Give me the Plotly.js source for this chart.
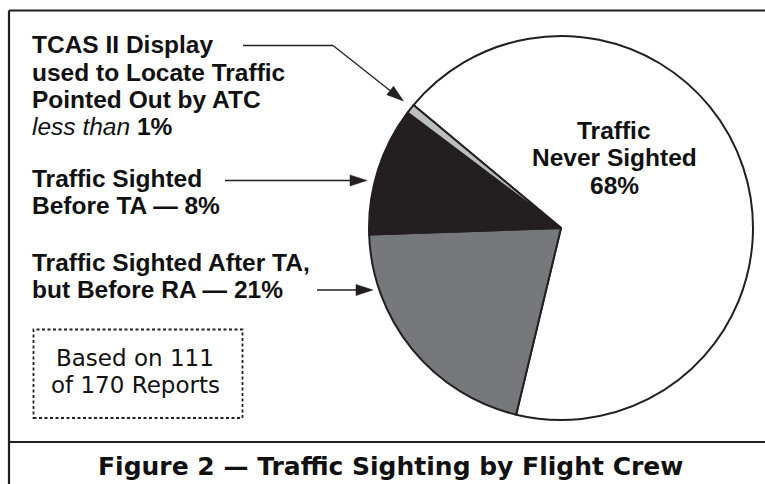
<!DOCTYPE html>
<html>
<head>
<meta charset="utf-8">
<script src="https://cdn.plot.ly/plotly-3.0.1.min.js"></script>
<style>html,body{margin:0;padding:0;background:#fff;}#chart{width:765px;height:484px;}</style>
</head>
<body>
<div id="chart"></div>
<script>
// ---- data ----
const categories = ["Traffic Never Sighted", "Traffic Sighted After TA, but Before RA", "Traffic Sighted Before TA", "TCAS II Display used to Locate Traffic Pointed Out by ATC"];
const sliceShares = [67.7, 20.7, 10.8, 0.8];      // shares as drawn in the figure
const printedPercents = ["68%", "21%", "8%", "1%"]; // percentages printed in the labels
const sliceColors = ["#ffffff", "#77787b", "#231f20", "#bcbec0"];

const W = 765, H = 484;
const px = x => x / W;
const py = y => 1 - y / H;
const INK = "#231f20";

function label(x, y, text, opts) {
  opts = opts || {};
  return {
    xref: "paper", yref: "paper", x: px(x), y: py(y),
    xanchor: opts.xanchor || "left", yanchor: "middle",
    showarrow: false, text: text, borderpad: 0,
    font: {family: opts.family || "Liberation Sans, Arial, sans-serif", size: opts.size || 24.5,
           color: "#111111", weight: opts.weight || "bold"}
  };
}
function line(x0, y0, x1, y1, w, dash) {
  return {type: "line", xref: "paper", yref: "paper", x0: px(x0), y0: py(y0), x1: px(x1), y1: py(y1),
          line: {color: INK, width: w || 1.3, dash: dash || "solid"}};
}
function arrowHead(fromX, fromY, tipX, tipY) {
  const len = 17, half = 5.5;
  const dx = tipX - fromX, dy = tipY - fromY, d = Math.hypot(dx, dy);
  const ux = dx / d, uy = dy / d;
  const bx = tipX - ux * len, by = tipY - uy * len;
  const p1 = [bx - uy * half, by + ux * half], p2 = [bx + uy * half, by - ux * half];
  const f = p => px(p[0]).toFixed(5) + "," + py(p[1]).toFixed(5);
  return {type: "path", xref: "paper", yref: "paper",
          path: "M" + f([tipX, tipY]) + " L" + f(p1) + " L" + f(p2) + " Z",
          fillcolor: INK, line: {color: INK, width: 0.5}};
}

const pieTrace = {
  type: "pie",
  labels: categories,
  values: sliceShares,
  sort: false,
  direction: "clockwise",
  rotation: -50.2,
  textinfo: "none",
  hoverinfo: "label+percent",
  showlegend: false,
  marker: {colors: sliceColors, line: {color: INK, width: 2}},
  domain: {x: [px(369), px(753)], y: [py(420), py(36)]}
};

const annotations = [
  label(31, 45, "TCAS II Display"),
  label(31, 72.3, "used to Locate Traffic"),
  label(31, 99.6, "Pointed Out by ATC"),
  label(31, 126.9, "<i>less than</i> <b>" + printedPercents[3] + "</b>", {weight: "normal"}),
  label(31, 178, "Traffic Sighted"),
  label(31, 205.3, "Before TA — " + printedPercents[2]),
  label(31, 262, "Traffic Sighted After TA,"),
  label(31, 289.3, "but Before RA — " + printedPercents[1]),
  label(614, 130.5, "Traffic", {xanchor: "center"}),
  label(614, 157.8, "Never Sighted", {xanchor: "center"}),
  label(614, 185.1, printedPercents[0], {xanchor: "center"}),
  label(135, 358, "Based on 111", {xanchor: "center", family: "DejaVu Sans, sans-serif", size: 23, weight: "normal"}),
  label(135, 385, "of 170 Reports", {xanchor: "center", family: "DejaVu Sans, sans-serif", size: 23, weight: "normal"}),
  label(391, 466, "Figure 2 — Traffic Sighting by Flight Crew", {xanchor: "center", family: "DejaVu Sans, sans-serif", size: 25, weight: "bold"})
];

const shapes = [
  // frame
  line(9, 10.5, 765, 10.5, 2.2),
  line(9, 10.5, 9, 484, 2.2),
  line(9, 442, 765, 442, 2.2),
  // dashed note box
  {type: "rect", xref: "paper", yref: "paper", x0: px(33.5), x1: px(242.5), y0: py(418), y1: py(329.5),
   line: {color: INK, width: 1.8, dash: "3px,2.5px"}},
  // leader lines
  line(243, 45.5, 333, 45.5),
  line(333, 45.5, 395, 94.5),
  arrowHead(333, 45.5, 403.5, 101),
  line(225, 180.5, 352, 180.5),
  arrowHead(225, 180.5, 367, 180.5),
  line(317, 290, 358, 290),
  arrowHead(317, 290, 373, 290)
];

const layout = {
  width: W, height: H,
  margin: {l: 0, r: 0, t: 0, b: 0},
  paper_bgcolor: "#ffffff",
  showlegend: false,
  annotations: annotations,
  shapes: shapes
};

Plotly.newPlot("chart", [pieTrace], layout, {displayModeBar: false, staticPlot: true});
</script>
</body>
</html>
